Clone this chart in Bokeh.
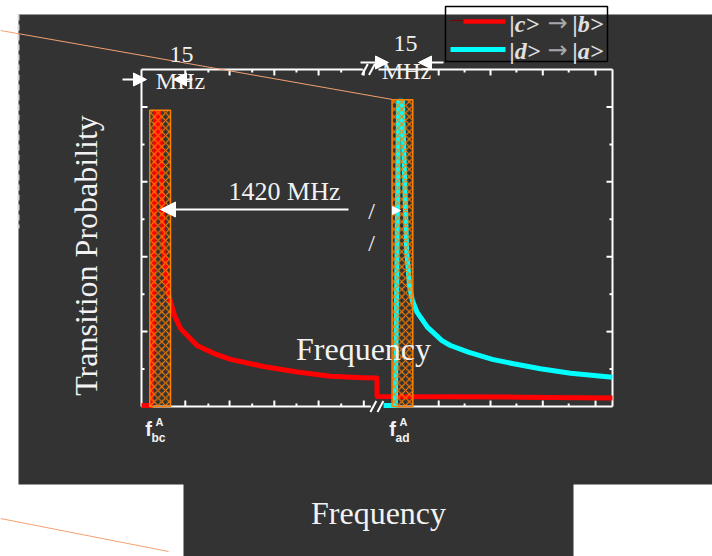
from bokeh.plotting import figure
from bokeh.models import Range1d, Label, Arrow, NormalHead
from bokeh.embed import file_html
from bokeh.resources import INLINE

# ---------------- data (arbitrary frequency units 0..100 across a broken axis) -------------
freq_cb = [0.0, 2.1, 3.0, 3.8, 4.7, 5.5, 6.4, 7.1, 8.3, 10.4, 11.8, 15.3, 18.9, 25.9,
           33.1, 40.1, 47.1, 50.0, 50.0, 65.0, 80.0, 100.0]
prob_cb = [0.003, 0.003, 0.785, 0.785, 0.417, 0.310, 0.270, 0.240, 0.208, 0.181, 0.163,
           0.142, 0.126, 0.107, 0.092, 0.081, 0.077, 0.076, 0.027, 0.026, 0.025, 0.023]

freq_da = [51.4, 53.9, 54.6, 55.4, 56.3, 56.9, 57.5, 58.5, 60.7, 63.8, 65.6, 69.4, 74.5,
           79.0, 84.7, 91.1, 100.0]
prob_da = [0.003, 0.003, 0.815, 0.815, 0.417, 0.323, 0.283, 0.252, 0.212, 0.176, 0.163,
           0.145, 0.126, 0.114, 0.101, 0.089, 0.078]

# 15 MHz windows around f_bc^A and f_ad^A
win_left = [1.76, 53.2]
win_right = [6.16, 57.6]
win_top = [0.791, 0.819]

# axis ticks (no labels)
x_major = [9.3, 18.7, 28.2, 37.6, 47.2, 63.1, 74.1, 85.2, 96.4]
x_minor = [14.2, 23.5, 32.9, 42.4, 68.6, 79.6, 90.7]
y_major = [0.2, 0.4, 0.6, 0.8]
y_minor = [0.1, 0.3, 0.5, 0.7]
X_MIN, X_MAX, Y_MIN, Y_MAX = 0.0, 100.0, 0.0, 0.9
BREAK_BOTTOM = (48.7, 51.6)
BREAK_TOP = (47.0, 50.3)

legend_states = [("|c>", "|b>"), ("|d>", "|a>")]

# ---------------- layout helpers (pixel -> data) ----------------
PXX, PXY = 4.71, 374.4
OX, OY = 141.0, 406.0


def X(px):
    return (px - OX) / PXX


def Y(py):
    return (OY - py) / PXY


W, H = 712, 556
p = figure(width=W, height=H, x_range=Range1d(X(0), X(W)), y_range=Range1d(Y(H), Y(0)),
           x_axis_type=None, y_axis_type=None, toolbar_location=None,
           output_backend="svg", min_border=0, outline_line_color=None,
           background_fill_color="white", border_fill_color="white")
p.min_border_left = p.min_border_right = p.min_border_top = p.min_border_bottom = 0

DARK = "#333333"
TXT = "#f2f2f2"
SERIF = "Liberation Serif"
SANS = "Liberation Sans"

# dark panels
p.quad(left=[X(18), X(183)], right=[X(W), X(573)], top=[Y(14), Y(483)],
       bottom=[Y(484), Y(H)], fill_color=DARK, line_color=None)
p.line([X(18), X(18)], [Y(14), Y(228)], line_color="#d8d8d8", line_width=2, line_dash="6 4")

# plot frame
wl = dict(line_color="white", line_width=2)
p.segment(x0=[X_MIN, X_MAX, X_MIN, BREAK_TOP[1], X_MIN, BREAK_BOTTOM[1]],
          y0=[Y_MIN, Y_MIN, Y_MAX, Y_MAX, Y_MIN, Y_MIN],
          x1=[X_MIN, X_MAX, BREAK_TOP[0], X_MAX, BREAK_BOTTOM[0], X_MAX],
          y1=[Y_MAX, Y_MAX, Y_MAX, Y_MAX, Y_MIN, Y_MIN], **wl)
# break marks
sy = 5.5 / PXY
for xb in (BREAK_BOTTOM[0] - 0.1, BREAK_BOTTOM[0] + 1.4):
    p.segment(x0=[xb], y0=[Y_MIN - sy], x1=[xb + 1.25], y1=[Y_MIN + sy], **wl)
for xb in (BREAK_TOP[0] - 0.2, BREAK_TOP[0] + 1.3):
    p.segment(x0=[xb], y0=[Y_MAX - sy], x1=[xb + 1.25], y1=[Y_MAX + sy], **wl)

# ticks (inward)
for ticks, L in ((x_major, 6), (x_minor, 3)):
    d = L / PXY
    p.segment(x0=ticks, y0=[Y_MIN] * len(ticks), x1=ticks, y1=[Y_MIN + d] * len(ticks), **wl)
    p.segment(x0=ticks, y0=[Y_MAX] * len(ticks), x1=ticks, y1=[Y_MAX - d] * len(ticks), **wl)
for ticks, L in ((y_major, 6), (y_minor, 3)):
    d = L / PXX
    p.segment(x0=[X_MIN] * len(ticks), y0=ticks, x1=[X_MIN + d] * len(ticks), y1=ticks, **wl)
    p.segment(x0=[X_MAX] * len(ticks), y0=ticks, x1=[X_MAX - d] * len(ticks), y1=ticks, **wl)

# orange guide lines
p.line([X(0), X(392)], [Y(30), Y(99)], line_color="#f4a070", line_width=1)
p.line([X(0), X(168)], [Y(518), Y(551)], line_color="#f4a070", line_width=1)

# curves
p.line(freq_cb, prob_cb, line_color="#ff0000", line_width=5, line_join="round")
p.line(freq_da, prob_da, line_color="#00ffff", line_width=5, line_join="round")

# hatched windows
p.quad(left=win_left, right=win_right, bottom=[0, 0], top=win_top, fill_color=None,
       hatch_pattern="x", hatch_color="#ff8000", hatch_scale=7.5, hatch_weight=1.1,
       line_color="#ff8000", line_width=1.5)


def lab(px, py, text, size, font=SERIF, style="normal", align="center", angle=0,
        color=TXT):
    # py is the intended baseline in pixels; compensate the renderer's baseline offset
    off = 0.31 * size
    if angle == 0:
        ax, ay = px, py - off
    else:
        ax, ay = px - off, py
    p.add_layout(Label(x=X(ax), y=Y(ay), text=text, text_font=font,
                       text_font_size=f"{size}px", text_font_style=style,
                       text_color=color, text_align=align, text_baseline="alphabetic",
                       angle=angle, angle_units="deg"))


# legend
p.quad(left=[X(445)], right=[X(607)], top=[Y(6)], bottom=[Y(61)], fill_color=None,
       line_color="black", line_width=1.5)
p.line([X(450), X(463)], [Y(20), Y(20)], line_color="#7a0000", line_width=1)
p.line([X(463), X(505)], [Y(21), Y(21)], line_color="#ff0000", line_width=4.5)
p.line([X(450), X(505)], [Y(49), Y(49)], line_color="#00ffff", line_width=5)
for (a, b), yb in zip(legend_states, (31, 58)):
    lab(509, yb, a, 24, style="bold italic", align="left", color="#e0e0e0")
    lab(557, yb - 1, "\u2192", 24, font="DejaVu Sans", color="#a8a8a8")
    lab(572, yb, b, 24, style="bold italic", align="left", color="#e0e0e0")

# texts
lab(95, 255, "Transition Probability", 32, angle=90)
lab(363, 358, "Frequency", 32)
lab(378, 522, "Frequency", 32)
lab(284, 199, "1420 MHz", 26)
lab(181, 61, "15", 24)
lab(180, 88, "MHz", 24)
lab(405, 50, "15", 24)
lab(406, 78, "MHz", 24)
lab(371, 218, "/", 24)
lab(371, 250, "/", 24)

# f labels
for fx, sub in ((148, "bc"), (392, "ad")):
    lab(fx, 435, "f", 20, font=SANS, style="bold")
    lab(fx + 11, 425, "A", 11, font=SANS, style="bold")
    lab(fx + 3, 441.5, sub, 12, font=SANS, style="bold", align="left")


# arrows
def arrow(x0, x1, y, size=13):
    p.add_layout(Arrow(end=NormalHead(size=size, fill_color="white", line_color="white",
                                      line_width=1),
                       x_start=X(x0), y_start=Y(y), x_end=X(x1), y_end=Y(y),
                       line_color="white", line_width=2))


arrow(122, 146, 79)
arrow(192, 173, 79)
arrow(360, 388, 62)
arrow(443, 418, 62)
arrow(348, 160, 209, size=15)
arrow(392, 400, 210, size=8)

open("out.html", "w").write(file_html(p, INLINE))
